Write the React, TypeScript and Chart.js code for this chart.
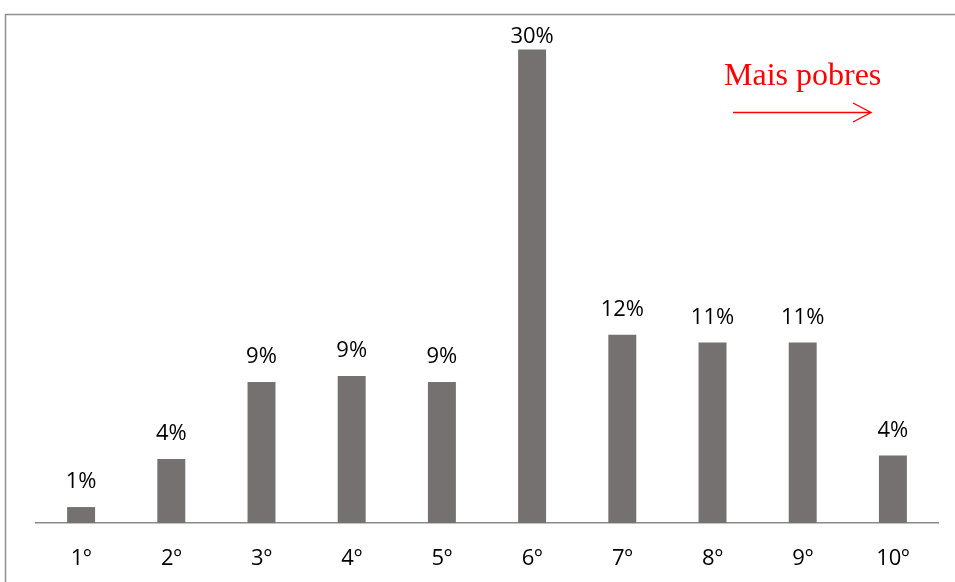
import React, { useEffect, useRef } from "react";
import { Chart, registerables } from "chart.js";

Chart.register(...registerables);

const categories = ["1º", "2º", "3º", "4º", "5º", "6º", "7º", "8º", "9º", "10º"];
const shares = [1.01, 4.06, 8.94, 9.32, 8.94, 30.0, 11.93, 11.43, 11.43, 4.27];
const noteText = "Mais pobres";

const FONT = "'Open Sans', sans-serif";

const decorPlugin = {
  id: "decor",
  beforeDraw(chart: any) {
    const ctx = chart.ctx;
    ctx.save();
    ctx.strokeStyle = "#8f8f8f";
    ctx.lineWidth = 1.5;
    ctx.beginPath();
    ctx.moveTo(5.5, 582);
    ctx.lineTo(5.5, 14.5);
    ctx.lineTo(955, 14.5);
    ctx.stroke();
    ctx.restore();
  },
  afterDatasetsDraw(chart: any) {
    const ctx = chart.ctx;
    const meta = chart.getDatasetMeta(0);
    const data = chart.data.datasets[0].data as number[];
    ctx.save();
    ctx.font = "22px " + FONT;
    ctx.fillStyle = "#000";
    ctx.textAlign = "center";
    ctx.textBaseline = "middle";
    meta.data.forEach((bar: any, i: number) => {
      const y = Math.max(bar.y - 25, 37);
      ctx.fillText(Math.round(data[i]) + "%", bar.x, y);
    });
    // annotation
    ctx.fillStyle = "#ff0000";
    ctx.strokeStyle = "#ff0000";
    ctx.font = "32px 'Liberation Serif', serif";
    ctx.textAlign = "left";
    ctx.textBaseline = "alphabetic";
    ctx.fillText(noteText, 724, 85);
    ctx.lineWidth = 1.4;
    ctx.beginPath();
    ctx.moveTo(733, 112.5);
    ctx.lineTo(871, 112.5);
    ctx.moveTo(853, 103);
    ctx.lineTo(871, 112.5);
    ctx.lineTo(853, 122);
    ctx.stroke();
    ctx.restore();
  },
};

export default function App() {
  const ref = useRef<HTMLCanvasElement>(null);
  useEffect(() => {
    if (!ref.current) return;
    const chart = new Chart(ref.current, {
      type: "bar",
      data: {
        labels: categories,
        datasets: [
          {
            data: shares,
            backgroundColor: "#767171",
            borderWidth: 0,
            categoryPercentage: 1,
            barPercentage: 0.31,
          },
        ],
      },
      options: {
        animation: false,
        responsive: false,
        devicePixelRatio: 1,
        layout: { padding: { left: 36, right: 17, top: 18, bottom: 0 } },
        plugins: { legend: { display: false }, tooltip: { enabled: false } },
        scales: {
          x: {
            grid: { display: false, drawTicks: false },
            border: { display: true, color: "#8a8a8a", width: 1.5 },
            ticks: { color: "#000", font: { family: FONT, size: 22 }, padding: 23 },
            afterFit: (scale: any) => {
              scale.height = 59;
            },
          },
          y: { display: false, min: 0, max: 32 },
        },
      },
      plugins: [decorPlugin],
    });
    return () => chart.destroy();
  }, []);
  return (
    <div style={{ position: "absolute", left: 0, top: 0, width: 955, height: 582, background: "#fff" }}>
      <canvas ref={ref} width={955} height={582} />
    </div>
  );
}
